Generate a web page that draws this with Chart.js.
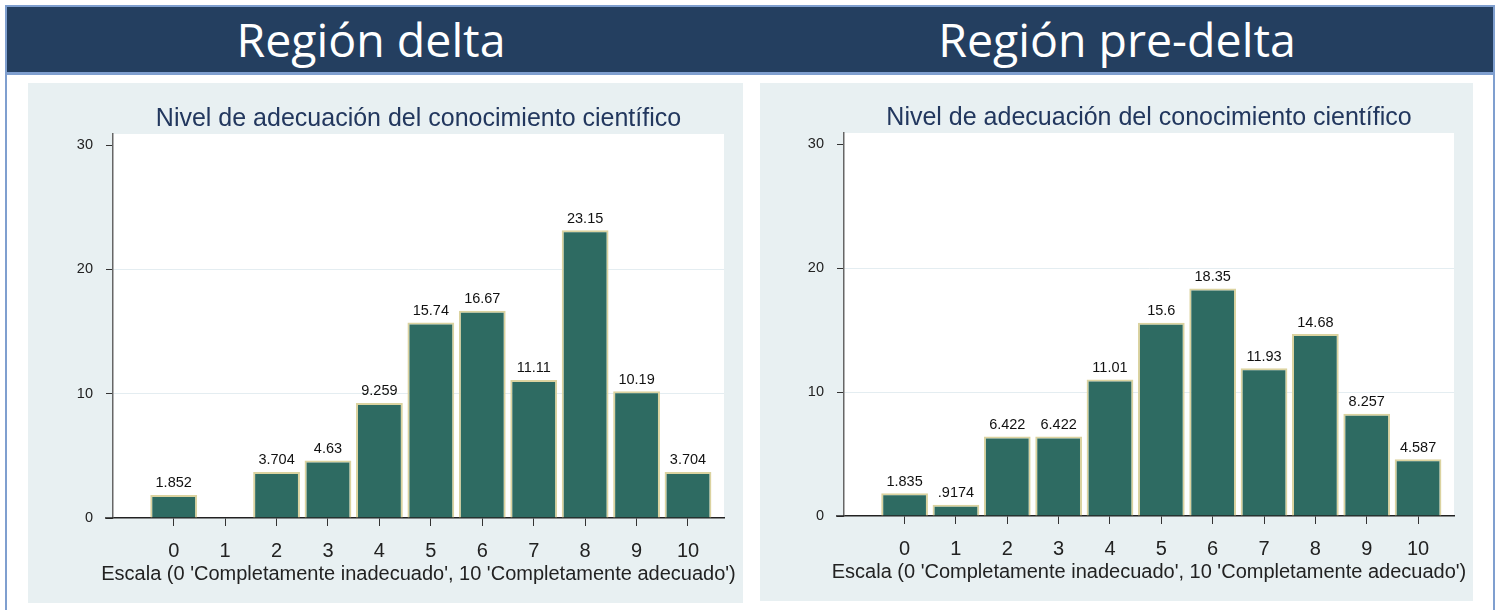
<!DOCTYPE html>
<html>
<head>
<meta charset="utf-8">
<script src="https://cdn.jsdelivr.net/npm/chart.js@4"></script>
<style>
  body { margin: 0; background: #ffffff; width: 1499px; height: 610px; overflow: hidden; position: relative; }
  #frame { position: absolute; left: 5px; top: 5px; width: 1486px; height: 620px; border: 2px solid #7f9fcf; }
  #header { position: absolute; left: 7px; top: 7px; width: 1486px; height: 65px; background: #243f60; border-bottom: 3px solid #7f9fcf; }
  .htitle { position: absolute; top: 0; width: 740px; text-align: center; color: #ffffff;
            font-family: "Open Sans", Lato, sans-serif; font-size: 46.5px; line-height: 65px; }
  .panel { position: absolute; top: 83px; background: #e8f0f2; }
  canvas { display: block; }
</style>
</head>
<body>
<div id="frame"></div>
<div id="header">
  <div class="htitle" style="left: -6px;">Región delta</div>
  <div class="htitle" style="left: 740px;">Región pre-delta</div>
</div>
<div class="panel" style="left: 28px; width: 715px; height: 520px;">
  <canvas id="chartDelta" width="715" height="520"></canvas>
</div>
<div class="panel" style="left: 760px; width: 713px; height: 518px;">
  <canvas id="chartPreDelta" width="713" height="518"></canvas>
</div>
<script>
const categories = [0, 1, 2, 3, 4, 5, 6, 7, 8, 9, 10];
const deltaValues = [1.852, null, 3.704, 4.63, 9.259, 15.74, 16.67, 11.11, 23.15, 10.19, 3.704];
const preDeltaValues = [1.835, 0.9174, 6.422, 6.422, 11.01, 15.6, 18.35, 11.93, 14.68, 8.257, 4.587];
const yTicks = [0, 10, 20, 30];
const chartTitle = "Nivel de adecuación del conocimiento científico";
const xTitle = "Escala (0 'Completamente inadecuado', 10 'Completamente adecuado')";

const FONT = "'Liberation Sans', Arial, sans-serif";

// Stata-style %9.4g: 4 significant digits, no leading zero
function fmtValue(v) {
  return Number(v.toPrecision(4)).toString().replace(/^0\./, ".");
}

const plotBackground = {
  id: "plotBackground",
  beforeDraw(chart) {
    const { ctx, chartArea } = chart;
    ctx.save();
    ctx.fillStyle = "#ffffff";
    ctx.fillRect(chartArea.left, chartArea.top, chartArea.right - chartArea.left, chartArea.bottom - chartArea.top);
    ctx.restore();
  },
};

const valueLabels = {
  id: "valueLabels",
  afterDatasetsDraw(chart) {
    const { ctx } = chart;
    const meta = chart.getDatasetMeta(0);
    ctx.save();
    ctx.font = "14.5px " + FONT;
    ctx.fillStyle = "#111111";
    ctx.textAlign = "center";
    ctx.textBaseline = "alphabetic";
    meta.data.forEach((bar, i) => {
      const v = chart.data.datasets[0].data[i];
      if (v === null || v === undefined) return;
      ctx.fillText(fmtValue(v), bar.x, bar.y - 7.5);
    });
    ctx.restore();
  },
};

const panelText = {
  id: "panelText",
  afterDraw(chart) {
    const { ctx, chartArea } = chart;
    const cx = (chartArea.left + chartArea.right) / 2;
    ctx.save();
    ctx.textAlign = "center";
    ctx.textBaseline = "alphabetic";
    ctx.font = "25px " + FONT;
    ctx.fillStyle = "#22375e";
    ctx.fillText(chartTitle, cx, chartArea.top - 8);
    ctx.font = "20px " + FONT;
    ctx.fillStyle = "#222222";
    ctx.fillText(xTitle, cx, chartArea.bottom + 62);
    // x axis line continues left under the y axis tick marks
    ctx.strokeStyle = "#222222";
    ctx.lineWidth = 1.5;
    ctx.beginPath();
    ctx.moveTo(chartArea.left - 8, chartArea.bottom);
    ctx.lineTo(chartArea.left, chartArea.bottom);
    ctx.stroke();
    ctx.restore();
  },
};

function makeChart(id, values, layout) {
  return new Chart(document.getElementById(id), {
    type: "bar",
    data: {
      labels: categories,
      datasets: [
        {
          data: values,
          backgroundColor: "#2e6b62",
          borderColor: "#dbd3a0",
          borderWidth: 2,
          barPercentage: 0.91,
          categoryPercentage: 1,
        },
      ],
    },
    options: {
      responsive: false,
      animation: false,
      layout: { padding: { top: layout.top, right: layout.right, bottom: 0, left: 0 } },
      plugins: { legend: { display: false }, tooltip: { enabled: false }, title: { display: false } },
      scales: {
        x: {
          type: "linear",
          offset: false,
          min: -1.18,
          max: 10.7,
          afterBuildTicks: (s) => { s.ticks = categories.map((v) => ({ value: v })); },
          afterFit: (s) => { s.height = layout.xHeight; },
          grid: { offset: false, drawOnChartArea: false, drawTicks: true, tickLength: 8, tickColor: "#333333" },
          border: { color: "#222222", width: 1.5 },
          ticks: {
            padding: 13,
            color: "#222222",
            font: { family: FONT, size: 20 },
          },
        },
        y: {
          min: 0,
          max: 30.9,
          afterBuildTicks: (s) => { s.ticks = yTicks.map((v) => ({ value: v })); },
          afterFit: (s) => { s.width = layout.yWidth; },
          grid: {
            color: (c) => (c.tick && (c.tick.value === 10 || c.tick.value === 20) ? "#e4edf1" : "rgba(0,0,0,0)"),
            tickColor: "#333333",
            tickLength: 7,
          },
          border: { color: "#666666", width: 1.5 },
          ticks: {
            padding: 13,
            color: "#222222",
            font: { family: FONT, size: 14.5 },
          },
        },
      },
    },
    plugins: [plotBackground, valueLabels, panelText],
  });
}

makeChart("chartDelta", deltaValues, { top: 51, right: 19, yWidth: 85, xHeight: 85 });
makeChart("chartPreDelta", preDeltaValues, { top: 50, right: 19, yWidth: 84, xHeight: 85 });
</script>
</body>
</html>
